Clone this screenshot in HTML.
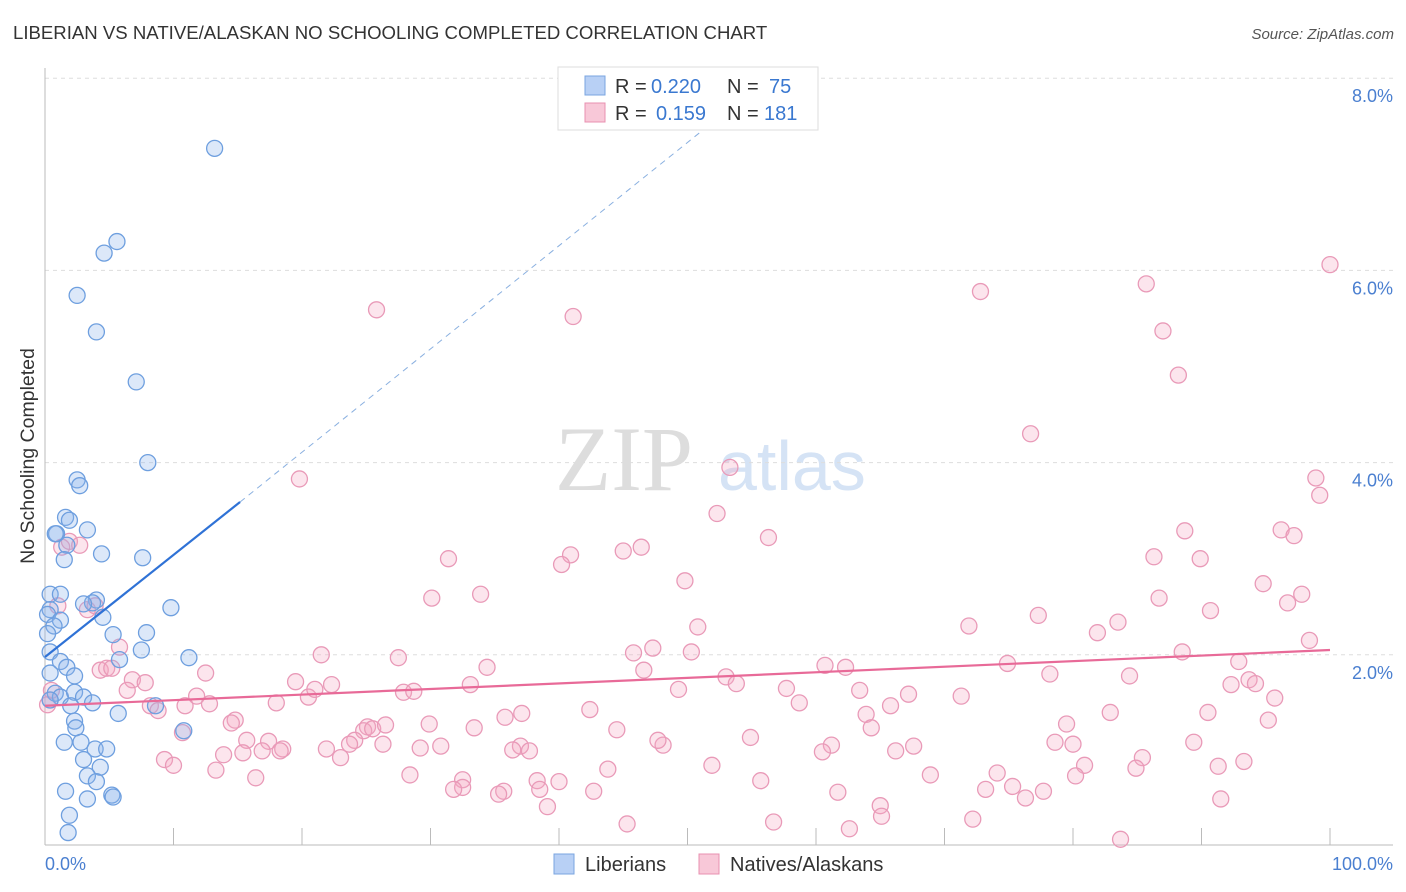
<!DOCTYPE html>
<html><head><meta charset="utf-8"><style>
body{margin:0;background:#fff;font-family:"Liberation Sans",sans-serif}
</style></head><body>
<svg id="c" width="1406" height="892" xmlns="http://www.w3.org/2000/svg" style="display:block">
<text x="13" y="39" font-size="18.6" fill="#333">LIBERIAN VS NATIVE/ALASKAN NO SCHOOLING COMPLETED CORRELATION CHART</text>
<text x="1394" y="39" font-size="15" fill="#555" text-anchor="end" font-style="italic">Source: ZipAtlas.com</text>
<text x="555" y="490" font-size="92" fill="#ddd" font-family="Liberation Serif">ZIP</text>
<text x="718" y="490" font-size="70" fill="#d5e3f5">atlas</text>
<g id="grid"></g><g id="pts"></g><g id="lines"></g>
<text transform="translate(34,456) rotate(-90)" font-size="19.5" fill="#333" text-anchor="middle">No Schooling Completed</text>
<text x="45" y="870" font-size="18" fill="#4a7fd0">0.0%</text>
<text x="1393" y="870" font-size="18" fill="#4a7fd0" text-anchor="end">100.0%</text>
<g>
<rect x="558" y="67" width="260" height="63" fill="#fff" stroke="#ddd"/>
<rect x="585" y="76" width="20" height="19" fill="#b8d0f5" stroke="#7aa5e0"/>
<rect x="585" y="103" width="20" height="19" fill="#f8c8d8" stroke="#e890b0"/>
<text x="615" y="93" font-size="20" fill="#333">R =</text>
<text x="651" y="93" font-size="20" fill="#3a78d0">0.220</text>
<text x="727" y="93" font-size="20" fill="#333">N =</text>
<text x="769" y="93" font-size="20" fill="#3a78d0">75</text>
<text x="615" y="120" font-size="20" fill="#333">R =</text>
<text x="656" y="120" font-size="20" fill="#3a78d0">0.159</text>
<text x="727" y="120" font-size="20" fill="#333">N =</text>
<text x="764" y="120" font-size="20" fill="#3a78d0">181</text>
</g>
<g>
<rect x="554" y="854" width="20" height="20" fill="#b8d0f5" stroke="#7aa5e0"/>
<text x="585" y="871" font-size="20" fill="#333">Liberians</text>
<rect x="699" y="854" width="20" height="20" fill="#f8c8d8" stroke="#e890b0"/>
<text x="730" y="871" font-size="20" fill="#333">Natives/Alaskans</text>
</g>
</svg>
<script>
const yTicks=[2,4,6,8];
const yTickLabels=["2.0%","4.0%","6.0%","8.0%"];
const xTicks=[0,10,20,30,40,50,60,70,80,90,100];
const blueX=[13.2,5.6,4.6,2.5,4.0,7.1,8.0,2.5,2.7,1.6,1.9,0.9,0.8,3.3,1.7,1.5,4.4,7.6,0.4,1.2,4.0,3.7,3.0,9.8,0.4,0.2,1.2,4.5,0.7,0.2,7.9,5.3,7.5,0.4,1.2,5.8,1.7,11.2,2.3,0.4,0.8,1.2,2.3,3.0,3.7,8.6,2.0,5.7,0.4,2.3,2.4,10.8,1.5,2.8,3.9,4.8,3.0,4.3,3.3,4.0,1.6,3.3,5.2,5.3,1.9,1.8];
const blueY=[7.27,6.30,6.18,5.74,5.36,4.84,4.00,3.82,3.76,3.43,3.40,3.26,3.26,3.30,3.14,2.99,3.05,3.01,2.63,2.63,2.57,2.54,2.53,2.49,2.47,2.42,2.36,2.39,2.30,2.22,2.23,2.21,2.05,2.03,1.93,1.95,1.87,1.97,1.78,1.81,1.60,1.56,1.61,1.56,1.50,1.47,1.47,1.39,1.53,1.31,1.24,1.21,1.09,1.09,1.02,1.02,0.91,0.83,0.74,0.68,0.58,0.50,0.54,0.52,0.33,0.15];
const pinkX=[100.0,72.8,85.7,25.8,41.1,87.0,88.2,76.7,53.3,98.9,99.2,19.8,52.3,88.7,96.2,97.2,56.3,46.4,45.0,40.9,31.4,40.2,86.3,89.9,49.8,94.8,86.7,97.8,30.1,33.9,96.7,90.7,77.3,83.5,71.9,81.9,50.8,98.4,88.5,47.3,45.8,50.3,21.5,27.5,74.9,92.9,60.7,62.3,46.6,34.4,12.5,78.2,84.4,93.7,53.0,53.8,19.5,33.1,49.3,94.2,27.9,92.3,28.7,63.4,67.2,71.3,95.7,57.7,20.5,22.3,21.0,58.7,18.0,65.8,11.8,12.8,10.9,90.5,82.9,63.9,42.4,37.1,35.8,29.9,95.2,64.3,25.1,24.8,25.5,14.8,14.5,79.5,26.5,33.4,44.5,54.9,10.7,15.7,17.4,24.1,23.7,48.1,47.7,61.2,78.6,80.0,89.4,26.3,67.6,30.8,29.2,66.2,21.9,18.5,16.9,15.4,37.0,37.7,36.4,60.5,85.4,18.3,23.0,13.9,9.3,10.0,51.9,91.3,93.3,84.9,43.8,74.1,80.9,80.2,68.9,28.4,13.3,16.4,32.5,55.7,32.5,31.8,35.7,38.3,40.0,38.5,73.2,75.3,76.3,77.7,42.7,35.3,91.5,61.7,65.0,39.1,65.1,72.2,45.3,56.7,62.6,83.7,0.4,0.2,0.5,1.0,1.3,1.9,2.7,3.3,3.9,4.3,4.8,5.2,5.8,6.8,6.4,7.8,8.2,8.8];
const pinkY=[6.06,5.78,5.86,5.59,5.52,5.37,4.91,4.30,3.95,3.84,3.66,3.83,3.47,3.29,3.30,3.24,3.22,3.12,3.08,3.04,3.00,2.94,3.02,3.00,2.77,2.74,2.59,2.63,2.59,2.63,2.54,2.46,2.41,2.34,2.30,2.23,2.29,2.15,2.03,2.07,2.02,2.03,2.00,1.97,1.91,1.93,1.89,1.87,1.84,1.87,1.81,1.80,1.78,1.74,1.77,1.70,1.72,1.69,1.64,1.70,1.61,1.69,1.62,1.63,1.59,1.57,1.55,1.65,1.56,1.69,1.64,1.50,1.50,1.47,1.57,1.49,1.47,1.40,1.40,1.38,1.43,1.39,1.35,1.28,1.32,1.24,1.25,1.21,1.23,1.32,1.29,1.28,1.27,1.24,1.22,1.14,1.19,1.11,1.10,1.11,1.07,1.06,1.11,1.06,1.09,1.07,1.09,1.07,1.05,1.05,1.03,1.00,1.02,1.02,1.00,0.98,1.05,1.00,1.01,0.99,0.93,1.00,0.93,0.96,0.91,0.85,0.85,0.84,0.89,0.82,0.81,0.77,0.85,0.74,0.75,0.75,0.80,0.72,0.70,0.69,0.62,0.60,0.58,0.69,0.68,0.60,0.60,0.63,0.51,0.58,0.58,0.55,0.50,0.57,0.43,0.42,0.32,0.29,0.24,0.26,0.19,0.08,1.53,1.48,1.63,2.51,3.12,3.18,3.14,2.47,2.51,1.84,1.86,1.86,2.08,1.74,1.63,1.71,1.47,1.42];
const blueTrend=[1.977,3.59];const blueTrendX=[0,15.18];const blueDashEnd=[52.5,7.6];
const pinkTrend=[1.47,2.05];
const NS="http://www.w3.org/2000/svg";
const X=v=>45+v*12.85, Y=v=>847-v*96.1;
function mk(p,t,a){const e=document.createElementNS(NS,t);for(const k in a)e.setAttribute(k,a[k]);document.getElementById(p).appendChild(e);return e;}
yTicks.forEach((t,i)=>{
 const g=mk('grid','line',{x1:45,x2:1393,y1:Y(t),y2:Y(t),stroke:'#ddd','stroke-dasharray':'4,4'});
 
 
 const l=mk('grid','text',{x:1393,y:Y(t)+24,'font-size':18,fill:'#4a7fd0','text-anchor':'end'});
 l.textContent=yTickLabels[i];
 
 
});
const ax=mk('grid','line',{x1:45,x2:45,y1:68,y2:845,stroke:'#bbb'});


const bx=mk('grid','line',{x1:45,x2:1393,y1:845,y2:845,stroke:'#bbb'});


xTicks.forEach(t=>{
 const e=mk('grid','line',{x1:X(t),x2:X(t),y1:828,y2:845,stroke:'#bbb'});
 
 
});
pinkX.forEach((x,i)=>{
 const e=mk('pts','circle',{cx:X(x),cy:Y(pinkY[i]),r:8,fill:'rgba(244,170,196,0.3)',stroke:'#e99ab8','stroke-width':1.3});
 
 
});
blueX.forEach((x,i)=>{
 const e=mk('pts','circle',{cx:X(x),cy:Y(blueY[i]),r:8,fill:'rgba(140,180,235,0.3)',stroke:'#6e9fdf','stroke-width':1.3});
 
 
});
const bd=mk('lines','line',{x1:X(blueTrendX[1]),y1:Y(blueTrend[1]),x2:X(blueDashEnd[0]),y2:Y(blueDashEnd[1]),stroke:'#8ab0e0','stroke-width':1,'stroke-dasharray':'6,5'});


const bl=mk('lines','line',{x1:X(blueTrendX[0]),y1:Y(blueTrend[0]),x2:X(blueTrendX[1]),y2:Y(blueTrend[1]),stroke:'#2f72d6','stroke-width':2.2});


const pl=mk('lines','line',{x1:X(0),y1:Y(pinkTrend[0]),x2:X(100),y2:Y(pinkTrend[1]),stroke:'#e86a98','stroke-width':2.2});


</script>
</body></html>
